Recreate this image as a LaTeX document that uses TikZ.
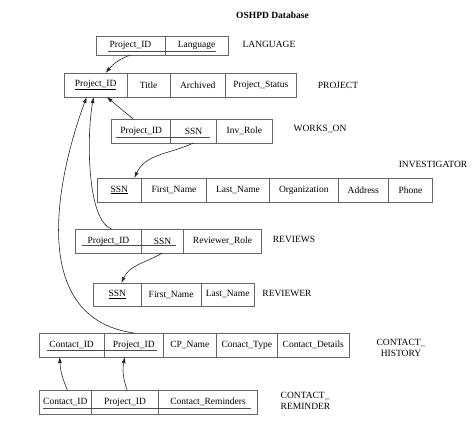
\documentclass[tikz,border=0pt]{standalone}
\usepackage{fontspec}
\setmainfont{Liberation Serif}
\usetikzlibrary{positioning,arrows.meta}

\begin{document}
\begin{tikzpicture}[x=1pt,y=1pt,font=\fontsize{9.5}{11}\selectfont]
\tikzstyle{cell}=[draw=black!60, line width=0.8pt, minimum height=24pt, inner sep=0pt, outer sep=0pt]
\tikzstyle{fk}=[-{Latex[length=6pt,width=4pt]}, black!85, line width=0.6pt]
\tikzstyle{key}=[black!70, line width=0.6pt]
\useasboundingbox (0,0) rectangle (472,435);

\node[font=\fontsize{9.5}{11}\selectfont\bfseries] (title) at (272.5,419.3) {OSHPD Database};

% LANGUAGE
\node[cell, minimum height=19pt, minimum width=69pt, anchor=west] (lang1) at (96,389.5) {Project\_ID};
\node[cell, minimum height=19pt, minimum width=63pt, right=0pt of lang1] (lang2) {Language};
\node (langname) at (269,390.7) {LANGUAGE};
\draw[key] ([xshift=12pt,yshift=4pt]lang1.south west) -- ([xshift=-12pt,yshift=4pt]lang2.south east);

% PROJECT
\node[cell, minimum width=62.7pt, anchor=west] (proj1) at (64.3,350) {\underline{Project\_ID}};
\node[cell, minimum width=43.3pt, right=0pt of proj1] (proj2) {Title};
\node[cell, minimum width=55pt, right=0pt of proj2] (proj3) {Archived};
\node[cell, minimum width=71pt, right=0pt of proj3] (proj4) {Project\_Status};
\node (projname) at (338,349.3) {PROJECT};

% WORKS_ON
\node[cell, minimum width=59pt, anchor=west] (wo1) at (111.7,304) {Project\_ID};
\node[cell, minimum width=45.6pt, right=0pt of wo1] (wo2) {SSN};
\node[cell, minimum width=56pt, right=0pt of wo2] (wo3) {Inv\_Role};
\node (woname) at (320,305.7) {WORKS\_ON};
\draw[key] ([xshift=4pt,yshift=6pt]wo1.south west) -- ([xshift=-6pt,yshift=6pt]wo2.south east);

% INVESTIGATOR
\node[cell, minimum width=44pt, anchor=west] (inv1) at (97.3,245) {\underline{SSN}};
\node[cell, minimum width=65.4pt, right=0pt of inv1] (inv2) {First\_Name};
\node[cell, minimum width=62.6pt, right=0pt of inv2] (inv3) {Last\_Name};
\node[cell, minimum width=69pt, right=0pt of inv3] (inv4) {Organization};
\node[cell, minimum width=50pt, right=0pt of inv4] (inv5) {Address};
\node[cell, minimum width=44.4pt, right=0pt of inv5] (inv6) {Phone};
\node (invname) at (433,270.7) {INVESTIGATOR};

% REVIEWS
\node[cell, minimum width=65.6pt, anchor=west] (rv1) at (75.7,194) {Project\_ID};
\node[cell, minimum width=42.4pt, right=0pt of rv1] (rv2) {SSN};
\node[cell, minimum width=77.6pt, right=0pt of rv2] (rv3) {Reviewer\_Role};
\node (rvname) at (294,195.7) {REVIEWS};
\draw[key] ([xshift=6pt,yshift=8pt]rv1.south west) -- ([xshift=-8pt,yshift=8pt]rv2.south east);

% REVIEWER
\node[cell, minimum height=23pt, minimum width=48pt, anchor=west] (rev1) at (93.3,140.5) {\underline{SSN}};
\node[cell, minimum height=23pt, minimum width=59.7pt, right=0pt of rev1] (rev2) {First\_Name};
\node[cell, minimum height=23pt, minimum width=53.3pt, right=0pt of rev2] (rev3) {Last\_Name};
\node (revname) at (287,141.3) {REVIEWER};

% CONTACT_HISTORY
\node[cell, minimum width=65.3pt, anchor=west] (ch1) at (39,90) {Contact\_ID};
\node[cell, minimum width=59pt, right=0pt of ch1] (ch2) {Project\_ID};
\node[cell, minimum width=53pt, right=0pt of ch2] (ch3) {CP\_Name};
\node[cell, minimum width=61pt, right=0pt of ch3] (ch4) {Conact\_Type};
\node[cell, minimum width=72pt, right=0pt of ch4] (ch5) {Contact\_Details};
\node[align=center] (chname) at (401,87.3) {CONTACT\_\\HISTORY};
\draw[key] ([xshift=7.7pt,yshift=7pt]ch1.south west) -- ([xshift=-6pt,yshift=7pt]ch2.south east);

% CONTACT_REMINDER
\node[cell, minimum width=52.7pt, anchor=west] (cr1) at (39,33) {Contact\_ID};
\node[cell, minimum width=66.7pt, right=0pt of cr1] (cr2) {Project\_ID};
\node[cell, minimum width=99.3pt, right=0pt of cr2] (cr3) {Contact\_Reminders};
\node[align=left] (crname) at (305.5,34.5) {CONTACT\_\\REMINDER};
\draw[key] ([xshift=4pt,yshift=6pt]cr1.south west) -- ([xshift=-7pt,yshift=6pt]cr3.south east);

% foreign keys
\draw[fk] (lang1.south) to[out=-160,in=50] ([xshift=10pt]proj1.north);
\draw[fk] ([xshift=-8pt]wo1.north) -- ([xshift=11pt]proj1.south);
\draw[fk] (wo2.south) to[out=-155,in=65] ([xshift=15pt]inv1.north);
\draw[fk] ([xshift=3pt]rv1.north) .. controls +(-25,9) and +(-7,-37) .. ([xshift=-2pt]proj1.south);
\draw[fk] (ch2.north) .. controls +(-112,16) and +(-25,-67) .. ([xshift=-9pt]proj1.south);
\draw[fk] (rv2.south) to[out=-150,in=65] ([xshift=4pt]rev1.north);
\draw[fk] ([xshift=2pt]cr1.north) to[bend left=10] ([xshift=-12pt]ch1.south);
\draw[fk] ([xshift=2pt]cr2.north) to[bend left=15] ([xshift=-9pt]ch2.south);
\end{tikzpicture}
\end{document}
